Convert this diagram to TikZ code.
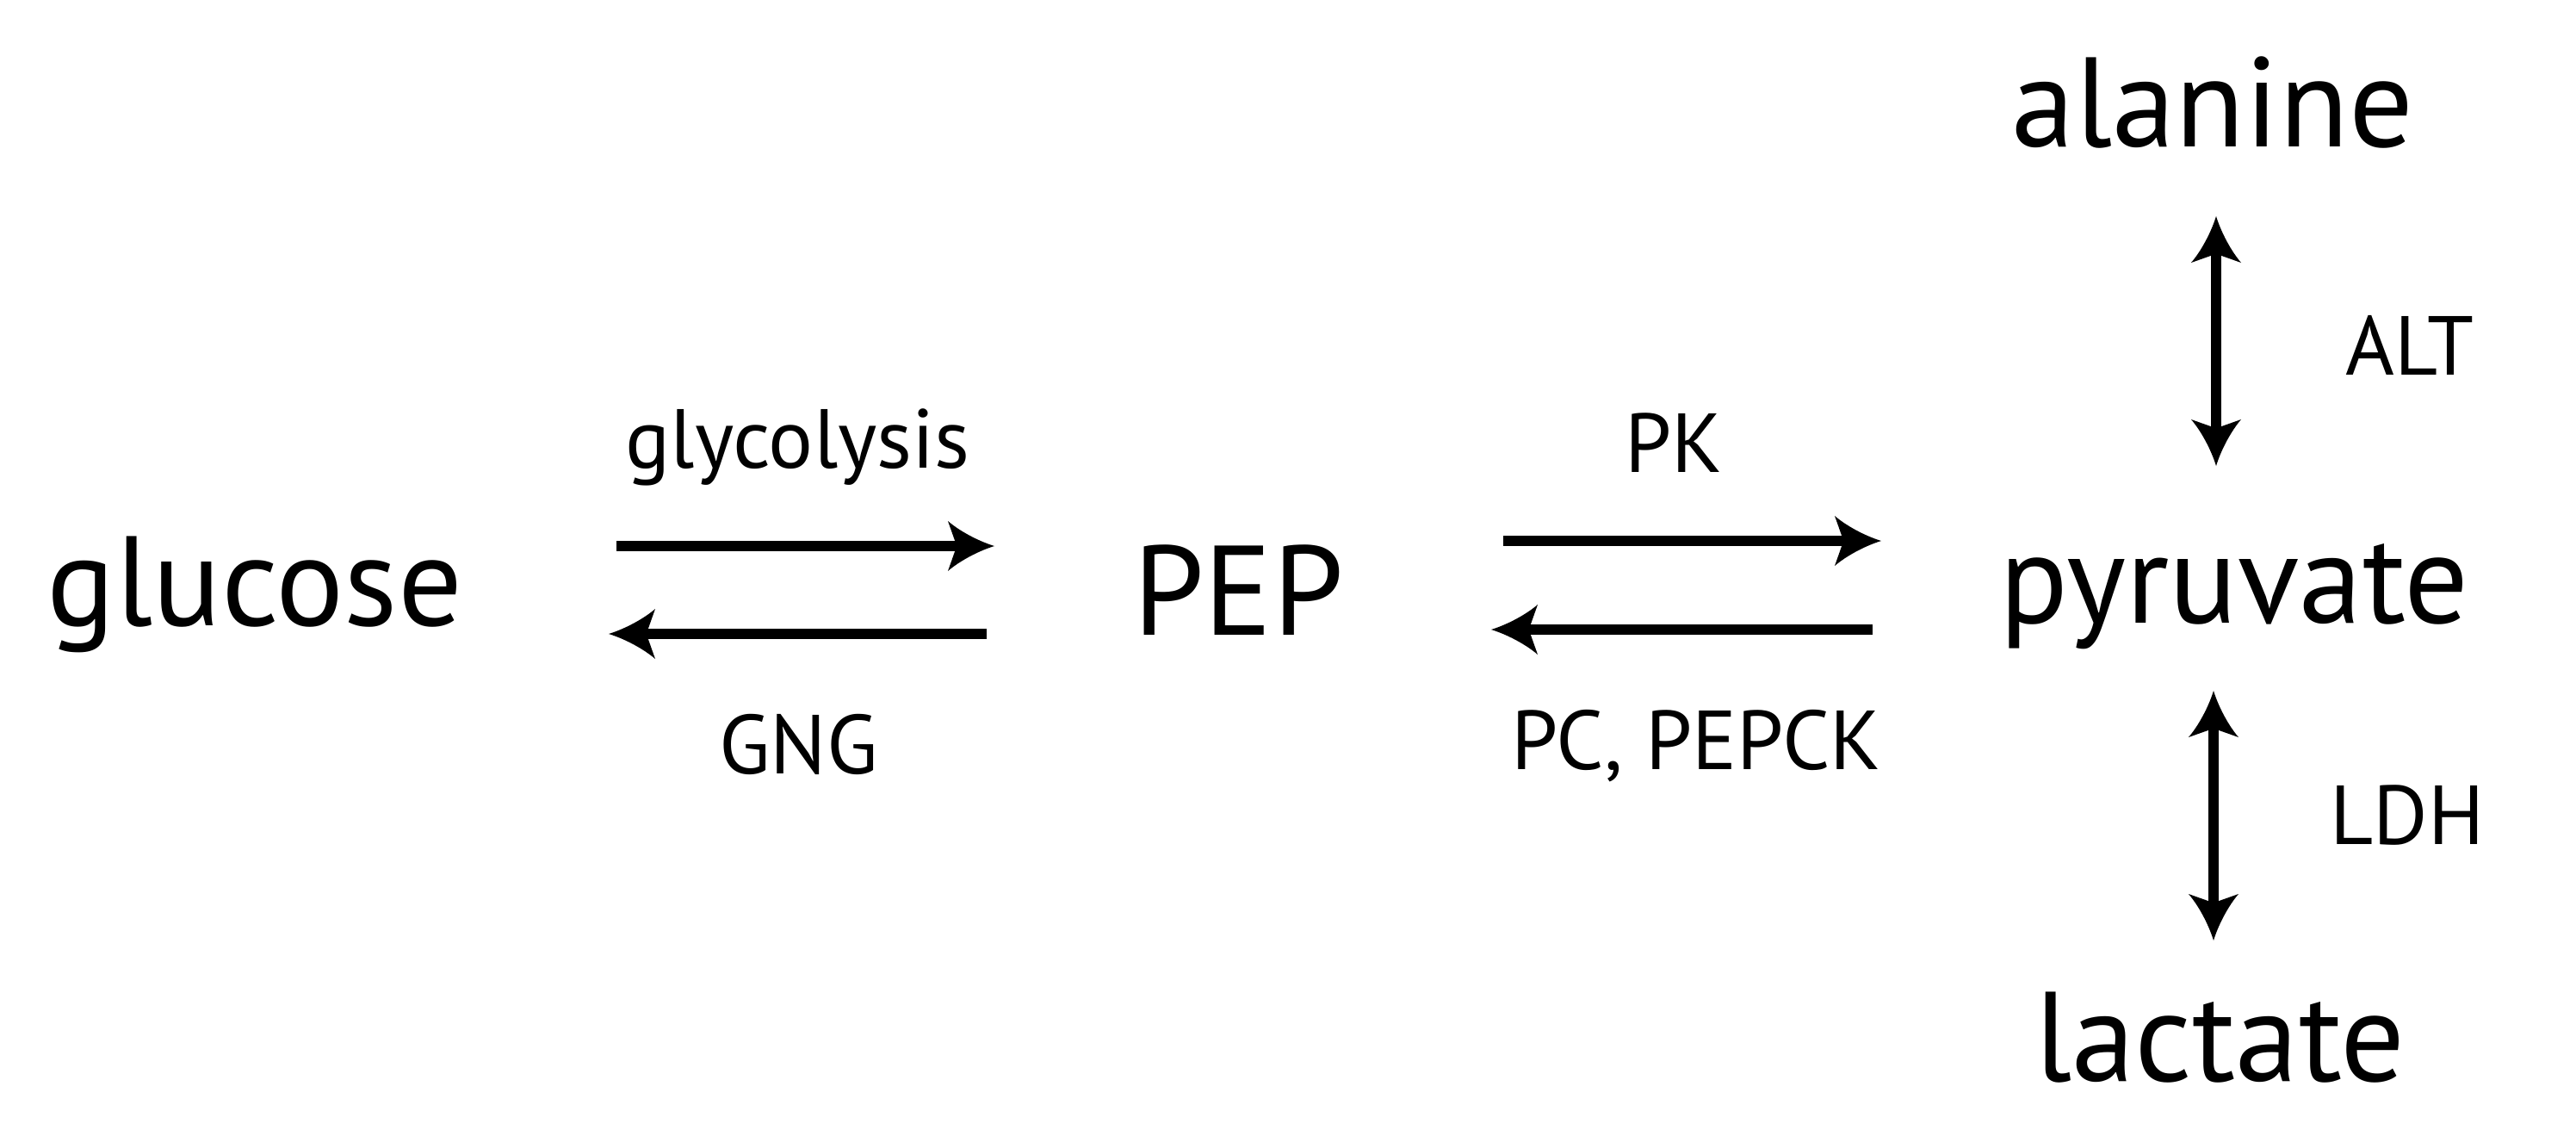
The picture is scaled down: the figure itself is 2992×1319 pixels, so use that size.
\documentclass[tikz,border=0pt]{standalone}
\usepackage{fontspec}
\setmainfont{PT Sans}
\usetikzlibrary{arrows.meta,calc}
\pgfdeclarearrow{
  name = Barb,
  parameters = {\the\pgfarrowlength,\the\pgfarrowwidth},
  setup code = {
    \pgfarrowssettipend{0pt}
    \pgfarrowssetbackend{-\pgfarrowlength}
    \pgfarrowssetlineend{-.7\pgfarrowlength}
    \pgfarrowssavethe\pgfarrowlength
    \pgfarrowssavethe\pgfarrowwidth
  },
  drawing code = {
    \pgfpathmoveto{\pgfpoint{0pt}{0pt}}
    \pgfpathcurveto{\pgfpoint{-.35\pgfarrowlength}{.1\pgfarrowwidth}}{\pgfpoint{-.75\pgfarrowlength}{.3\pgfarrowwidth}}{\pgfpoint{-\pgfarrowlength}{.5\pgfarrowwidth}}
    \pgfpathlineto{\pgfpoint{-.81\pgfarrowlength}{0pt}}
    \pgfpathlineto{\pgfpoint{-\pgfarrowlength}{-.5\pgfarrowwidth}}
    \pgfpathcurveto{\pgfpoint{-.75\pgfarrowlength}{-.3\pgfarrowwidth}}{\pgfpoint{-.35\pgfarrowlength}{-.1\pgfarrowwidth}}{\pgfpoint{0pt}{0pt}}
    \pgfpathclose
    \pgfusepathqfill
  },
  defaults = {length = 13pt, width = 14pt}
}
\tikzset{
  big/.style={inner sep=0pt, anchor=base, font=\fontsize{37pt}{40pt}\selectfont},
  small/.style={inner sep=0pt, anchor=base, font=\fontsize{24.3pt}{28pt}\selectfont},
  rxn/.style={line width=3pt, -{Barb[length=13.5pt,width=14.5pt]}},
  rev/.style={line width=3pt, {Barb[length=13.5pt,width=14.5pt]}-{Barb[length=13.5pt,width=14.5pt]}}
}
\begin{document}
\begin{tikzpicture}[x=0.25pt,y=-0.25pt]
\useasboundingbox (0,0) rectangle (2992,1319);
% metabolites
\node[big] (glucose) at (296,726) {glucose};
\node[big] (PEP) at (1438.5,737) {PEP};
\node[big] (alanine) at (2570,170) {alanine};
\node[big] (pyruvate) at (2595,723) {pyruvate};
\node[big] (lactate) at (2578.5,1255) {lactate};
% enzyme labels
\node[small] (glyco) at (926.5,543) {glycolysis};
\node[small] (GNG) at (927.5,898) {GNG};
\node[small] (PK) at (1944,548) {PK};
\node[small] (PC) at (1970,893) {PC, PEPCK};
\node[small] (ALT) at (2799,435) {ALT};
\node[small] (LDH) at (2796,980) {LDH};
% reactions
\draw[rxn] ($(glucose.base)+(420,-92)$) -- ($(PEP.base)+(-283.5,-103)$);
\draw[rxn] ($(PEP.base)+(-292.5,-1)$) -- ($(glucose.base)+(411,10)$);
\draw[rxn] ($(PEP.base)+(307.5,-109)$) -- ($(pyruvate.base)+(-410,-95)$);
\draw[rxn] ($(pyruvate.base)+(-420,8)$) -- ($(PEP.base)+(293.5,-6)$);
\draw[rev] ($(alanine.base)+(4,81)$) -- ($(pyruvate.base)+(-21,-182)$);
\draw[rev] ($(pyruvate.base)+(-24,79)$) -- ($(lactate.base)+(-7.5,-163)$);
\end{tikzpicture}
\end{document}
